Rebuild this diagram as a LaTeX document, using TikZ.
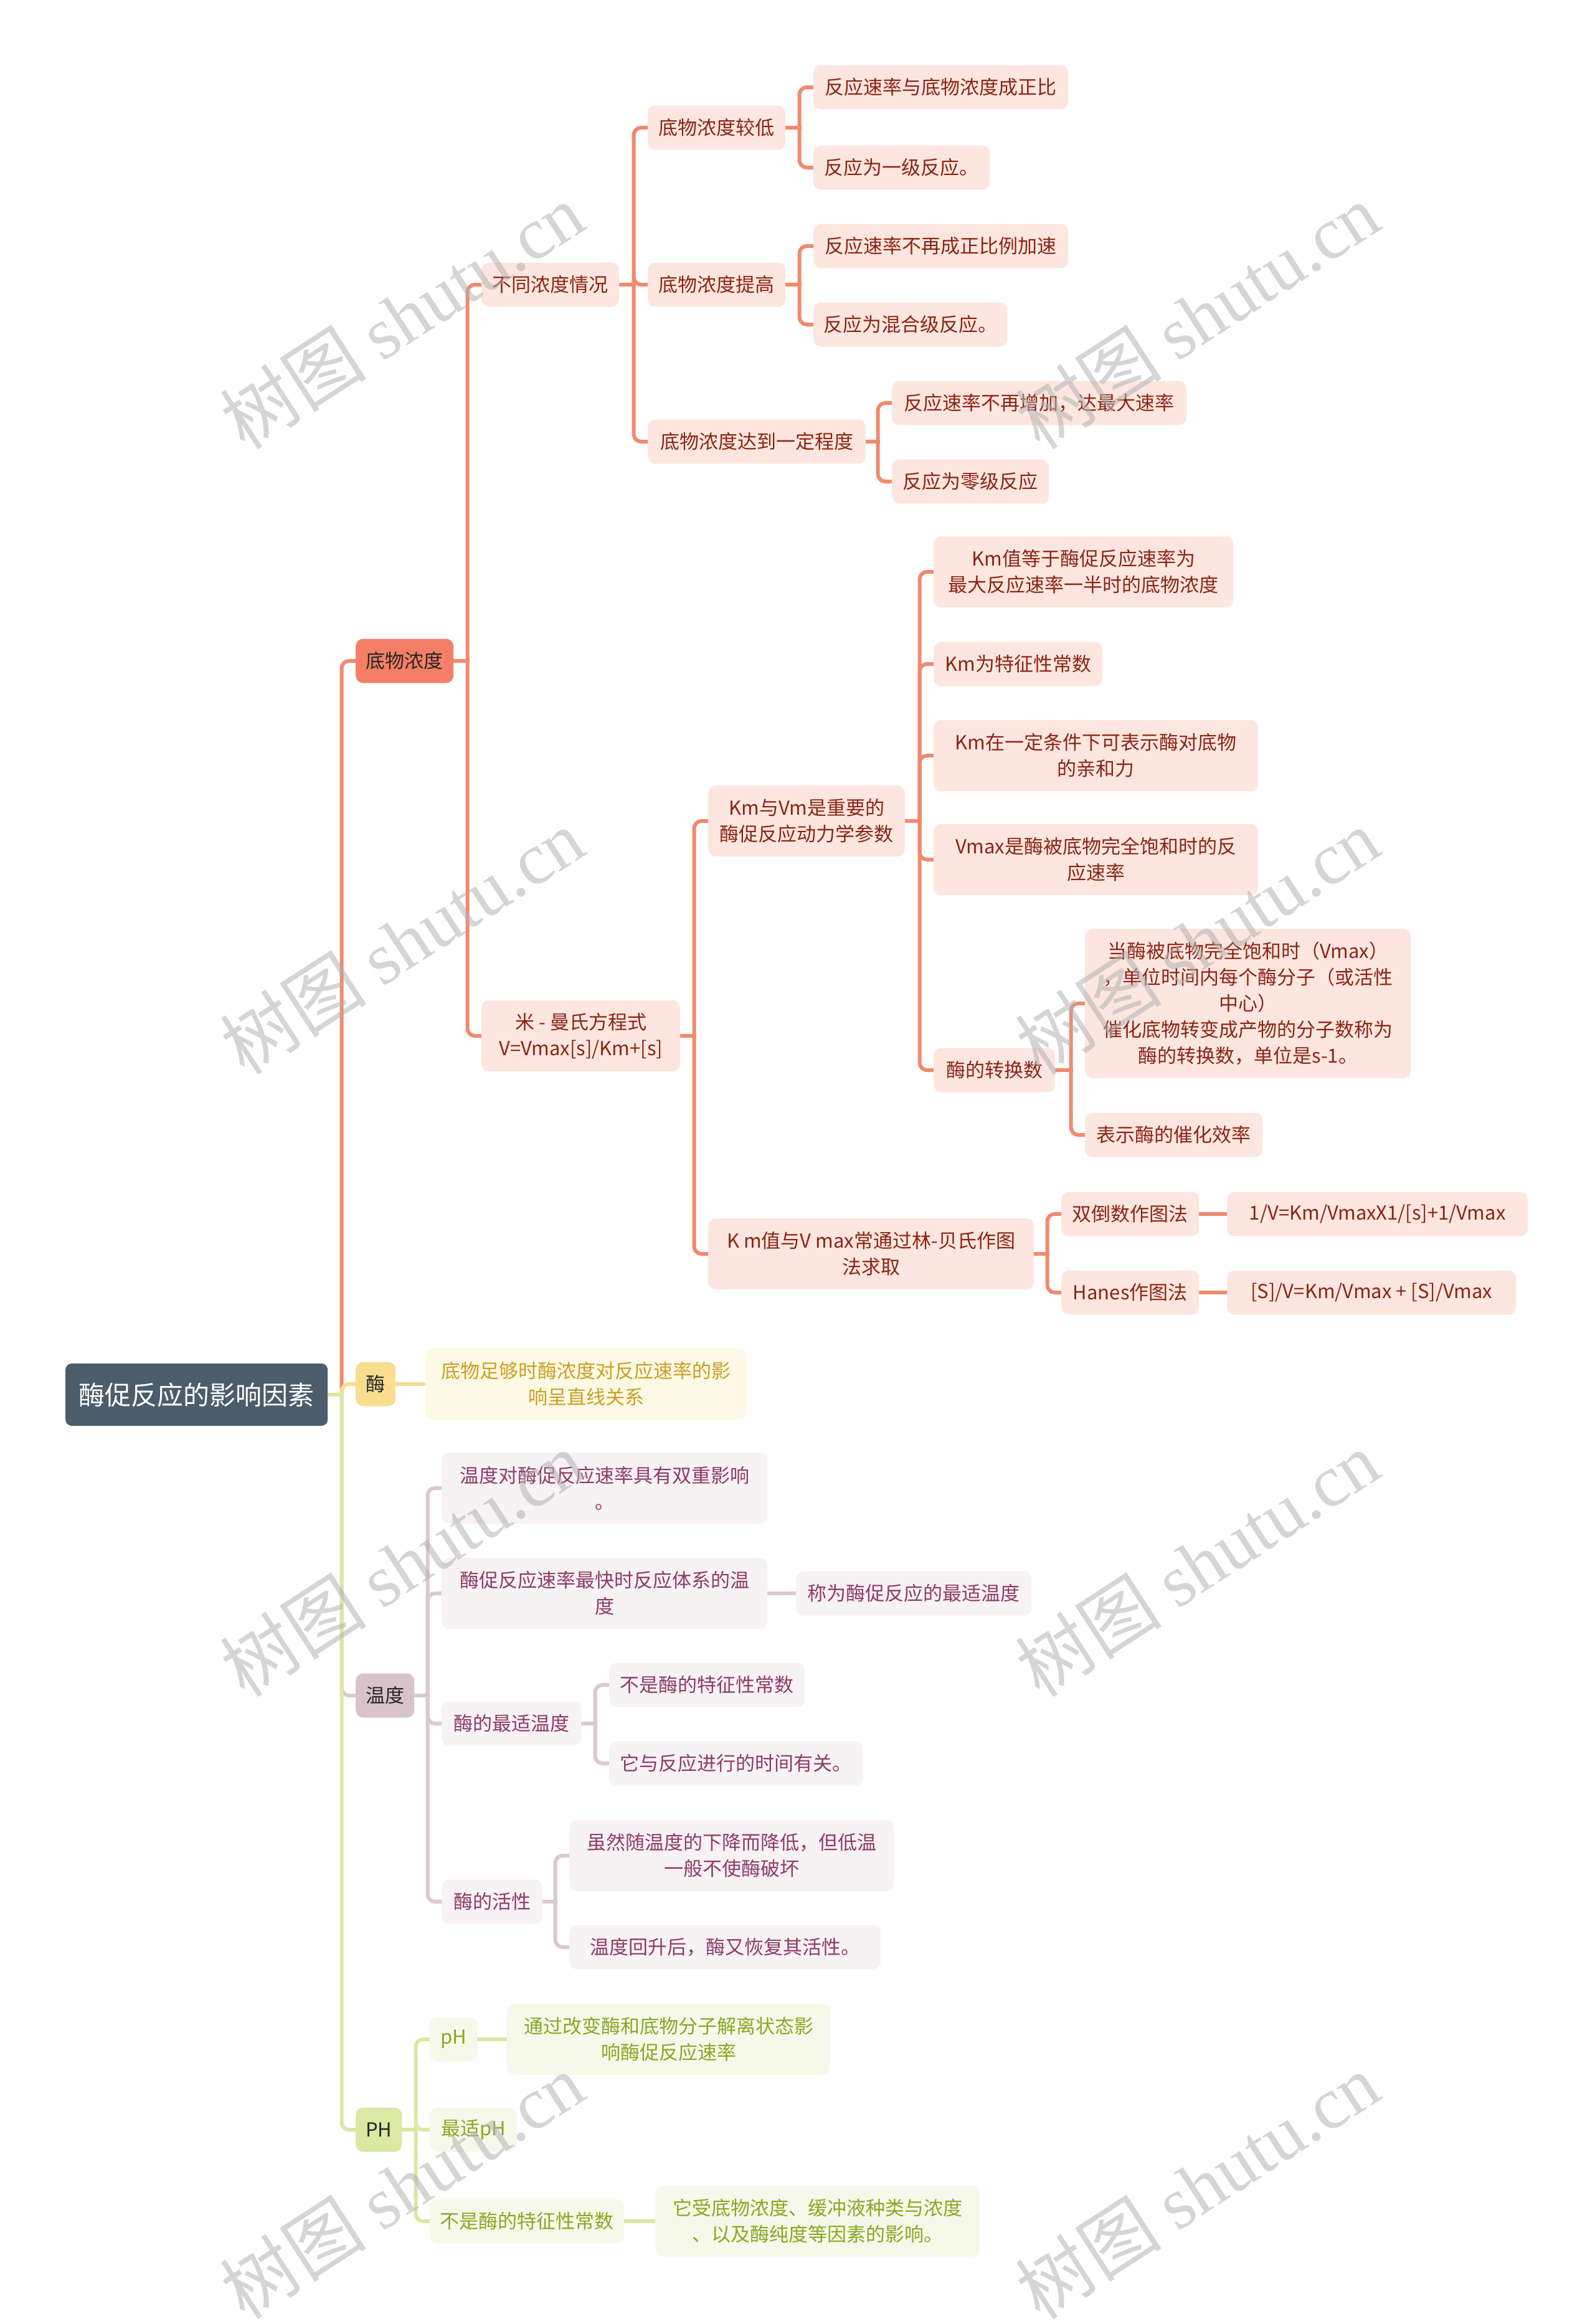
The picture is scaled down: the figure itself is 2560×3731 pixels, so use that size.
\documentclass[tikz,border=0pt]{standalone}
\usepackage{fontspec}
\setmainfont{Noto Sans CJK SC}
\newfontfamily\wmserif{Liberation Serif}
\usetikzlibrary{calc}
\pgfdeclarelayer{bg}
\pgfsetlayers{bg,main}

\definecolor{sal}{HTML}{F08A6E}
\definecolor{salfill}{HTML}{FDE6DF}
\definecolor{saltext}{HTML}{8C2415}
\definecolor{salmain}{HTML}{F47F66}
\definecolor{yel}{HTML}{F6DC8E}
\definecolor{yelmain}{HTML}{F7DD8E}
\definecolor{yelfill}{HTML}{FEF9E5}
\definecolor{yeltext}{HTML}{C9A024}
\definecolor{mau}{HTML}{DCC8CF}
\definecolor{maumain}{HTML}{D8C3CB}
\definecolor{maufill}{HTML}{F7F2F4}
\definecolor{mautext}{HTML}{8E3B66}
\definecolor{grn}{HTML}{D9E8A3}
\definecolor{grnmain}{HTML}{DAE8A2}
\definecolor{grnfill}{HTML}{F6F9E9}
\definecolor{grntext}{HTML}{8CA624}
\definecolor{rootfill}{HTML}{4B5D6B}

\newcommand\lnk[3]{%
  \draw[#1, line width=6pt, line cap=rect] (#2.east) -- ($(#2.east -| #3.west)+(-22.5,0)$);
  \draw[#1, line width=6pt, rounded corners=12pt] ($(#2.east -| #3.west)+(-22.5,0)$) |- (#3.west);}
\newcommand\slnk[3]{%
  \draw[#1, line width=6pt] (#2.east) -- (#3.west);}

\begin{document}
\begin{tikzpicture}[x=1pt,y=-1pt,
  box/.style={rounded corners=12pt, anchor=west, inner xsep=16pt, inner ysep=4pt,
    font=\fontsize{31}{42}\selectfont, align=center, minimum height=71pt},
  two/.style={minimum height=114pt},
  five/.style={minimum height=240pt},
  mw/.style={minimum width=#1},
  sb/.style={box, fill=salfill, text=saltext},
  yb/.style={box, fill=yelfill, text=yeltext},
  mb/.style={box, fill=maufill, text=mautext},
  gb/.style={box, fill=grnfill, text=grntext},
  lone/.style={box, text=black!85},
  wm/.style={rotate=33, text=black!30, opacity=0.55, font=\fontsize{118}{130}\selectfont}
]
\useasboundingbox (0,0) rectangle (2560,3731);

% root
\node[box, fill=rootfill, text=white, rounded corners=10pt, minimum height=100pt, mw=421pt,
  font=\fontsize{42}{50}\selectfont] (root) at (105,2239) {酶促反应的影响因素};

% level 1
\node[lone, fill=salmain, mw=157pt] (a) at (571,1061) {底物浓度};
\node[lone, fill=yelmain, mw=64pt] (b) at (571,2222) {酶};
\node[lone, fill=maumain, mw=93pt] (c) at (571,2722) {温度};
\node[lone, fill=grnmain, mw=74pt] (d) at (571,3419) {PH};

% substrate branch
\node[sb, mw=221pt] (a1) at (773,457) {不同浓度情况};
\node[sb, two, mw=319pt] (a2) at (773,1663) {米 - 曼氏方程式\\V=Vmax[s]/Km+[s]};

\node[sb, mw=221pt] (a11) at (1040,205) {底物浓度较低};
\node[sb, mw=221pt] (a12) at (1040,457) {底物浓度提高};
\node[sb, mw=350pt] (a13) at (1040,709) {底物浓度达到一定程度};

\node[sb, mw=409pt] (a111) at (1306,140) {反应速率与底物浓度成正比};
\node[sb, mw=283pt] (a112) at (1306,269) {反应为一级反应。};
\node[sb, mw=409pt] (a121) at (1306,395) {反应速率不再成正比例加速};
\node[sb, mw=305pt] (a122) at (1306,521) {反应为混合级反应。};
\node[sb, mw=473pt] (a131) at (1432,647) {反应速率不再增加，达最大速率};
\node[sb, mw=252pt] (a132) at (1432,773) {反应为零级反应};

\node[sb, two, mw=316pt] (a21) at (1137,1318) {Km与Vm是重要的\\酶促反应动力学参数};
\node[sb, two, mw=523pt] (a22) at (1137,2013) {K m值与V max常通过林-贝氏作图\\法求取};

\node[sb, two, mw=481pt] (a211) at (1499,918) {Km值等于酶促反应速率为\\最大反应速率一半时的底物浓度};
\node[sb, mw=271pt] (a212) at (1499,1066) {Km为特征性常数};
\node[sb, two, mw=521pt] (a213) at (1499,1213) {Km在一定条件下可表示酶对底物\\的亲和力};
\node[sb, two, mw=521pt] (a214) at (1499,1380) {Vmax是酶被底物完全饱和时的反\\应速率};
\node[sb, mw=195pt] (a215) at (1499,1718) {酶的转换数};

\node[sb, five, mw=523pt] (a2151) at (1742,1611) {当酶被底物完全饱和时（Vmax）\\，单位时间内每个酶分子（或活性\\中心）\\催化底物转变成产物的分子数称为\\酶的转换数，单位是s-1。};
\node[sb, mw=285pt] (a2152) at (1742,1822) {表示酶的催化效率};

\node[sb, mw=221pt] (a221) at (1704,1949) {双倒数作图法};
\node[sb, mw=221pt] (a222) at (1704,2075) {Hanes作图法};
\node[sb, mw=483pt] (a2211) at (1970,1949) {1/V=Km/VmaxX1/[s]+1/Vmax};
\node[sb, mw=464pt] (a2221) at (1970,2075) {[S]/V=Km/Vmax + [S]/Vmax};

% enzyme branch
\node[yb, two, mw=516pt] (b1) at (683,2222) {底物足够时酶浓度对反应速率的影\\响呈直线关系};

% temperature branch
\node[mb, two, mw=523pt] (c1) at (709,2389) {温度对酶促反应速率具有双重影响\\。};
\node[mb, two, mw=523pt] (c2) at (709,2558) {酶促反应速率最快时反应体系的温\\度};
\node[mb, mw=378pt] (c21) at (1278,2558) {称为酶促反应的最适温度};
\node[mb, mw=224pt] (c3) at (709,2767) {酶的最适温度};
\node[mb, mw=314pt] (c31) at (978,2705) {不是酶的特征性常数};
\node[mb, mw=407pt] (c32) at (978,2831) {它与反应进行的时间有关。};
\node[mb, mw=162pt] (c4) at (709,3053) {酶的活性};
\node[mb, two, mw=521pt] (c41) at (914,2979) {虽然随温度的下降而降低，但低温\\一般不使酶破坏};
\node[mb, mw=500pt] (c42) at (914,3126) {温度回升后，酶又恢复其活性。};

% pH branch
\node[gb, mw=76pt] (d1) at (690,3274) {pH};
\node[gb, two, mw=519pt] (d11) at (814,3274) {通过改变酶和底物分子解离状态影\\响酶促反应速率};
\node[gb, mw=140pt] (d2) at (690,3419) {最适pH};
\node[gb, mw=312pt] (d3) at (690,3566) {不是酶的特征性常数};
\node[gb, two, mw=521pt] (d31) at (1052,3566) {它受底物浓度、缓冲液种类与浓度\\、以及酶纯度等因素的影响。};

\begin{pgfonlayer}{bg}
\lnk{sal}{root}{a}
\lnk{yel}{root}{b}
\lnk{mau}{root}{c}
\lnk{grn}{root}{d}

\lnk{sal}{a}{a1}
\lnk{sal}{a}{a2}
\lnk{sal}{a1}{a11}
\lnk{sal}{a1}{a12}
\lnk{sal}{a1}{a13}
\lnk{sal}{a11}{a111}
\lnk{sal}{a11}{a112}
\lnk{sal}{a12}{a121}
\lnk{sal}{a12}{a122}
\lnk{sal}{a13}{a131}
\lnk{sal}{a13}{a132}
\lnk{sal}{a2}{a21}
\lnk{sal}{a2}{a22}
\lnk{sal}{a21}{a211}
\lnk{sal}{a21}{a212}
\lnk{sal}{a21}{a213}
\lnk{sal}{a21}{a214}
\lnk{sal}{a21}{a215}
\lnk{sal}{a215}{a2151}
\lnk{sal}{a215}{a2152}
\lnk{sal}{a22}{a221}
\lnk{sal}{a22}{a222}
\slnk{sal}{a221}{a2211}
\slnk{sal}{a222}{a2221}

\slnk{yel}{b}{b1}

\lnk{mau}{c}{c1}
\lnk{mau}{c}{c2}
\lnk{mau}{c}{c3}
\lnk{mau}{c}{c4}
\slnk{mau}{c2}{c21}
\lnk{mau}{c3}{c31}
\lnk{mau}{c3}{c32}
\lnk{mau}{c4}{c41}
\lnk{mau}{c4}{c42}

\lnk{grn}{d}{d1}
\lnk{grn}{d}{d2}
\lnk{grn}{d}{d3}
\slnk{grn}{d1}{d11}
\slnk{grn}{d3}{d31}
\end{pgfonlayer}

% watermarks
\foreach \wx in {645,1922} {
  \foreach \wy in {507,1511,2510,3509} {
    \node[wm] at (\wx,\wy) {树图 {\wmserif shutu.cn}};
  }
}
\end{tikzpicture}
\end{document}
